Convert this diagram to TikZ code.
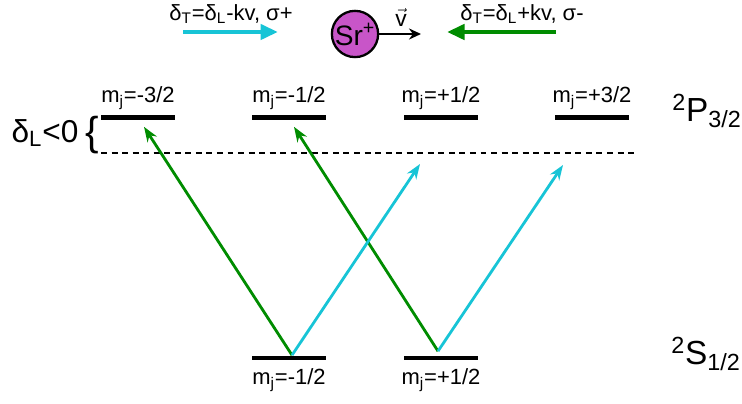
\documentclass[tikz,border=0pt]{standalone}
\usepackage{fontspec}
\setmainfont{Liberation Sans}
\usepackage{xcolor}
\definecolor{lcyan}{RGB}{23,196,214}
\definecolor{lgreen}{RGB}{0,140,0}
\definecolor{srpink}{RGB}{200,85,200}
\usetikzlibrary{arrows.meta, positioning, calc}

\begin{document}
\begin{tikzpicture}[x=0.02cm, y=-0.02cm,
  level/.style={fill=black, inner sep=0pt, minimum width=1.48cm, minimum height=0.1cm},
  mjlabel/.style={font=\fontsize{12.5}{14}\selectfont, inner sep=1pt},
  beam/.style={line width=2.8pt, -{Triangle[length=3.5mm,width=3mm]}},
  trans/.style={line width=1.6pt, -{Stealth[length=3mm,width=2.2mm]}}]
  \useasboundingbox (0,0) rectangle (742,404);

  % Laser beams and ion
  \node[font=\fontsize{12.5}{14}\selectfont] (txtp) at (231,14)
       {δ\textsubscript{T}=δ\textsubscript{L}-kv, σ+};
  \node[font=\fontsize{12.5}{14}\selectfont] (txtm) at (522,14)
       {δ\textsubscript{T}=δ\textsubscript{L}+kv, σ-};
  \coordinate (bp0) at (183,32);
  \coordinate (bp1) at (278,32);
  \coordinate (bm0) at (556,32);
  \coordinate (bm1) at (447,32);
  \draw[beam, lcyan] (bp0) -- (bp1);
  \draw[beam, lgreen] (bm0) -- (bm1);
  \node[circle, draw=black, line width=1.3pt, fill=srpink, minimum size=0.92cm,
        inner sep=0pt, font=\fontsize{16}{18}\selectfont] (ion) at (355,34) {Sr\textsuperscript{+}};
  \coordinate (vend) at (421,34);
  \draw[line width=1.2pt, -{Stealth[length=2.4mm,width=2.2mm]}] (ion.east) -- (vend);
  \node[font=\fontsize{13}{15}\selectfont] (vlab) at (401,17) {$\vec{\hbox{v}}$};

  % Upper levels
  \node[level] (pm3) at (138,118) {};
  \node[level] (pm1) at (289,118) {};
  \node[level] (pp1) at (441,118) {};
  \node[level] (pp3) at (592,118) {};
  \node[mjlabel, above=2pt of pm3] (lpm3) {m\textsubscript{j}=-3/2};
  \node[mjlabel, above=2pt of pm1] (lpm1) {m\textsubscript{j}=-1/2};
  \node[mjlabel, above=2pt of pp1] (lpp1) {m\textsubscript{j}=+1/2};
  \node[mjlabel, above=2pt of pp3] (lpp3) {m\textsubscript{j}=+3/2};
  \node[font=\fontsize{19}{22}\selectfont] (pname) at (707,111)
       {\textsuperscript{2}P\textsubscript{3/2}};

  % Detuning
  \coordinate (d0) at (101,153);
  \coordinate (d1) at (636,153);
  \draw[line width=1.1pt, dash pattern=on 3.4pt off 2.6pt] (d0) -- (d1);
  \node[font=\fontsize{18}{20}\selectfont] (dl) at (45,133) {δ\textsubscript{L}<0};
  \node[font=\fontsize{23}{25}\selectfont, inner sep=0pt] (brace) at (92,135) {\{};

  % Lower levels
  \node[level] (sm1) at (289,358) {};
  \node[level] (sm2) at (441,358) {};
  \node[mjlabel, below=3pt of sm1] (lsm1) {m\textsubscript{j}=-1/2};
  \node[mjlabel, below=3pt of sm2] (lsm2) {m\textsubscript{j}=+1/2};
  \node[font=\fontsize{19}{22}\selectfont] (sname) at (706,354)
       {\textsuperscript{2}S\textsubscript{1/2}};

  % Transitions
  \coordinate (s1) at ($(sm1.north)+(3,0)$);
  \coordinate (s2) at ($(sm2.north)+(-3,-4)$);
  \coordinate (v1) at (420,164);
  \coordinate (v2) at (563,165);
  \draw[trans, lgreen] (s1) -- ($(pm3.south)+(6,6)$);
  \draw[trans, lgreen] (s2) -- ($(pm1.south)+(5,6)$);
  \draw[trans, lcyan] (s1) -- (v1);
  \draw[trans, lcyan] (s2) -- (v2);
\end{tikzpicture}
\end{document}
